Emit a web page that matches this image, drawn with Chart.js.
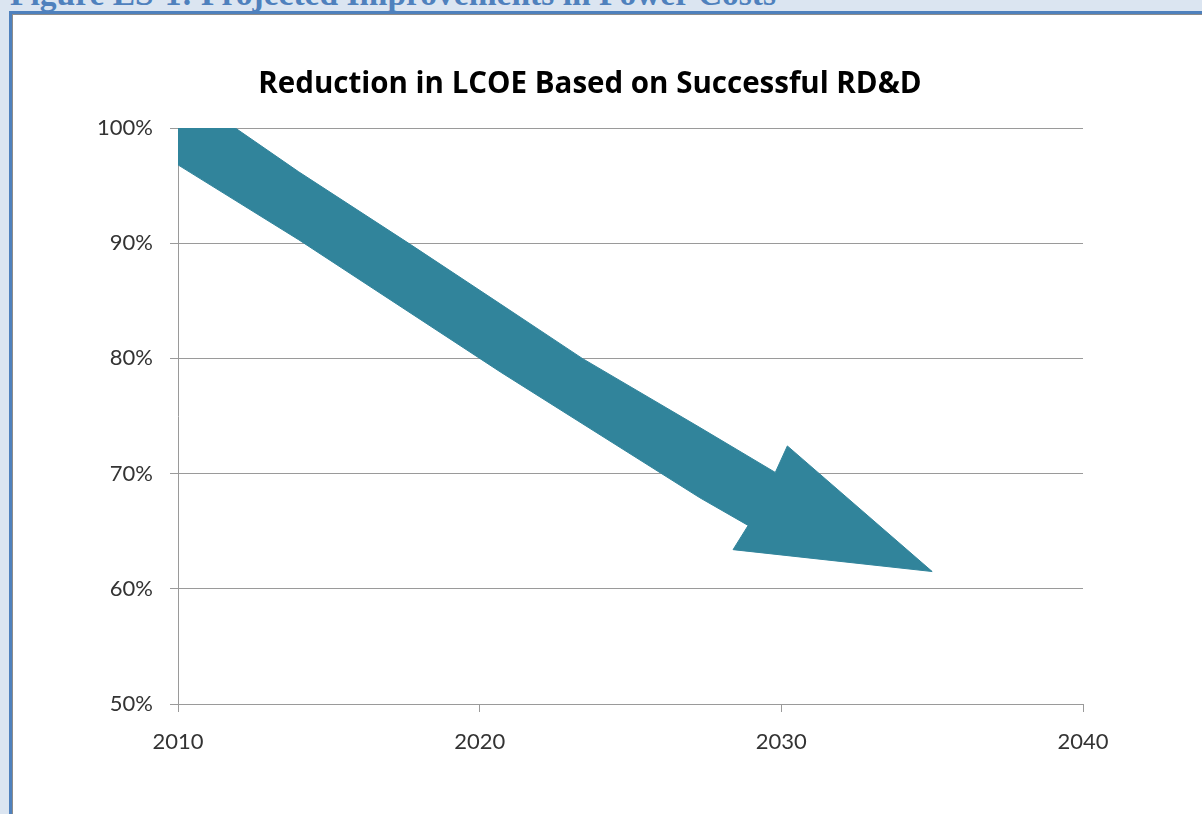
<!DOCTYPE html>
<html>
<head>
<meta charset="utf-8">
<script src="https://cdn.jsdelivr.net/npm/chart.js@4/dist/chart.umd.min.js"></script>
<style>
  html, body { margin: 0; padding: 0; }
  body { width: 1202px; height: 814px; overflow: hidden; background: #dbe5f1; position: relative; }
  #heading {
    position: absolute; left: 10px; top: -25px; white-space: nowrap;
    font-family: "Liberation Serif", serif; font-weight: bold; font-size: 33.5px;
    color: #4f81bd;
  }
  #frame {
    position: absolute; left: 9px; top: 11px; width: 1300px; height: 900px;
    background: #fff; border-top: 3px solid #4f81bd; border-left: 3px solid #4f81bd;
  }
  #frame-inner {
    position: absolute; left: 0; top: 0; right: 0; bottom: 0;
    border-top: 1px solid #8c8c8c; border-left: 1px solid #8c8c8c;
  }
  #chart { position: absolute; left: 12px; top: 15px; }
</style>
</head>
<body>
<div id="heading">Figure ES-1: Projected Improvements in Power Costs</div>
<div id="frame"><div id="frame-inner"></div></div>
<canvas id="chart" width="1190" height="799"></canvas>
<script>
// Arrow outline (year, % of today's LCOE)
const arrowYears = [2010, 2011.9, 2014.0, 2017.7, 2020.7, 2023.4, 2027.3, 2029.8, 2030.2, 2035.0, 2028.4, 2028.9, 2027.3, 2020.7, 2014.0, 2010, 2010];
const arrowPct   = [100, 100, 96.2, 89.9, 84.7, 80.0, 74.0, 70.1, 72.4, 61.5, 63.4, 65.5, 67.9, 78.8, 90.3, 96.8, 100];

const xTicks = [2010, 2020, 2030, 2040];
const yTicks = [50, 60, 70, 80, 90, 100];

const chartTitle = 'Reduction in LCOE Based on Successful RD&D';

const tickFont = { family: 'Lato', size: 22 };
const gridColor = '#9a9a9a';

const points = arrowYears.map((x, i) => ({ x: x, y: arrowPct[i] }));

new Chart(document.getElementById('chart'), {
    type: 'scatter',
    data: {
        datasets: [{
            data: points,
            showLine: true,
            fill: 'shape',
            tension: 0,
            pointRadius: 0,
            borderWidth: 1,
            borderColor: '#31849b',
            backgroundColor: '#31849b'
        }]
    },
    options: {
        responsive: false,
        animation: false,
        // left padding shifts the title centre; y box still wide enough for "100%"
        layout: { padding: { left: 85, right: 119, top: 0, bottom: 0 } },
        plugins: {
            legend: { display: false },
            tooltip: { enabled: false },
            title: {
                display: true,
                text: chartTitle,
                color: '#000',
                font: { family: 'Open Sans', size: 29.5, weight: 'bold', lineHeight: 1.2 },
                padding: { top: 52, bottom: 25.6 }
            }
        },
        scales: {
            x: {
                type: 'linear',
                min: xTicks[0],
                max: xTicks[xTicks.length - 1],
                afterBuildTicks: (s) => { s.ticks = xTicks.map(v => ({ value: v })); },
                afterFit: (s) => { s.height = 110; },
                border: { display: true, color: gridColor, width: 1 },
                grid: { drawOnChartArea: false, drawTicks: true, tickLength: 8, color: gridColor },
                ticks: { color: '#333', font: tickFont, padding: 17, maxRotation: 0, callback: v => String(v) }
            },
            y: {
                min: yTicks[0],
                max: yTicks[yTicks.length - 1],
                afterBuildTicks: (s) => { s.ticks = yTicks.map(v => ({ value: v })); },
                afterFit: (s) => { s.width = 81; },
                border: { display: true, color: gridColor, width: 1 },
                grid: { drawOnChartArea: true, drawTicks: true, tickLength: 8, color: gridColor },
                ticks: { color: '#333', font: tickFont, padding: 17, callback: v => v + '%' }
            }
        }
    }
});
</script>
</body>
</html>
